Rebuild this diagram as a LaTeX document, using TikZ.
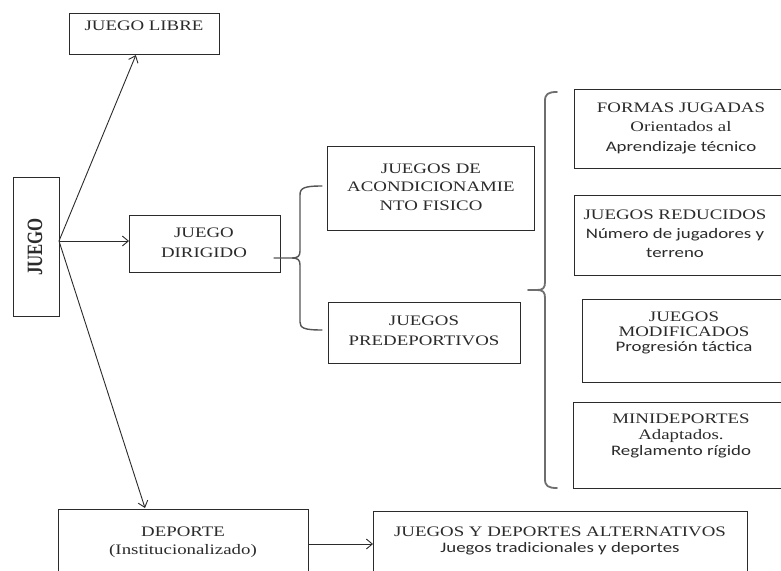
\documentclass[tikz,border=0pt]{standalone}
\usepackage{fontspec}
\usepackage{graphicx}
\setmainfont{Liberation Serif}[FakeStretch=1.3]
\newfontfamily\sansf{Carlito}[FakeStretch=1.3]
\newfontfamily\plainserif{Liberation Serif}
\usetikzlibrary{arrows.meta}
\definecolor{ink}{HTML}{2B2B2B}
\definecolor{bracegray}{HTML}{6E6E6E}
\begin{document}
\begin{tikzpicture}[x=1pt,y=-1pt,
  box/.style={draw=ink, line width=1.1pt, inner sep=0pt, anchor=north west},
  txt/.style={align=center, inner sep=0pt, text=ink},
  fs/.style={font=\fontsize{14.5}{#1}\selectfont},
  arr/.style={draw=ink, line width=0.9pt, -{Straight Barb[length=6pt,width=10pt]}},
  bracestyle/.style={draw=bracegray, line width=1.8pt, line cap=round, line join=round}]
\useasboundingbox (0,0) rectangle (781,570);
\clip (0,0) rectangle (781,570);
\fill[white] (0,0) rectangle (781,570);

% boxes
\node[box, minimum width=150pt, minimum height=41pt] (libre) at (69,13) {};
\node[box, minimum width=46pt, minimum height=139pt] (juego) at (13,177) {};
\node[box, minimum width=151pt, minimum height=57pt] (dirigido) at (129,215) {};
\node[box, minimum width=207pt, minimum height=84pt] (acond) at (327,146) {};
\node[box, minimum width=192pt, minimum height=61pt] (predep) at (328,302) {};
\node[box, minimum width=230pt, minimum height=79pt] (formas) at (574,89) {};
\node[box, minimum width=230pt, minimum height=80pt] (reduc) at (574,195) {};
\node[box, minimum width=230pt, minimum height=83pt] (modif) at (582,299) {};
\node[box, minimum width=230pt, minimum height=86pt] (minid) at (573,402) {};
\node[box, minimum width=250pt, minimum height=90pt] (deporte) at (58,509) {};
\node[box, minimum width=374pt, minimum height=90pt] (altern) at (373,511) {};

% texts
\node[txt, fs=19] (libreT) at (144,26) {JUEGO LIBRE};
\node[rotate=90, inner sep=0pt, text=ink] (juegoT) at (35,247)
  {\scalebox{1}[1.3]{\plainserif\bfseries\fontsize{16.8}{17}\selectfont JUEGO}};
\node[txt, fs=20] (dirigidoT) at (204,243) {JUEGO\\DIRIGIDO};
\node[txt, fs=18.5] (acondT) at (431,187) {JUEGOS DE\\ACONDICIONAMIE\\NTO FISICO};
\node[txt, fs=20] (predepT) at (424,331) {JUEGOS\\PREDEPORTIVOS};
\node[txt, fs=19.5] (formasT) at (681,128) {FORMAS JUGADAS\\Orientados al\\{\sansf Aprendizaje técnico}};
\node[txt, fs=19] (reducT) at (675,234) {JUEGOS REDUCIDOS\\{\sansf Número de jugadores y}\\{\sansf terreno}};
\node[txt, fs=15] (modifT) at (684,333) {JUEGOS\\MODIFICADOS\\{\sansf Progresión táctica}};
\node[txt, fs=16] (minidT) at (681,436) {MINIDEPORTES\\Adaptados.\\{\sansf Reglamento rígido}};
\node[txt, fs=18] (deporteT) at (183,542) {DEPORTE\\(Institucionalizado)};
\node[txt, fs=16] (alternT) at (560,541) {JUEGOS Y DEPORTES ALTERNATIVOS\\{\sansf Juegos tradicionales y deportes}};

% arrows
\coordinate (jo) at (59,241);
\coordinate (depIn) at (145,508);
\coordinate (da) at (0,544);
\draw[arr] (jo) -- (libre);
\draw[arr] (jo) -- (jo -| dirigido.west);
\draw[arr] (jo) -- (depIn);
\draw[arr] (deporte.east |- da) -- (altern.west |- da);

% small brace
\coordinate (sTip) at (274,258);
\draw[bracestyle, line width=1.4pt, draw=ink!80] (322,186) .. controls (304,186) and (300,188) .. (300,195)
  -- (300,251) .. controls (300,256) and (298,258) .. (292,258) -- (sTip) -- (292,258)
  .. controls (298,258) and (300,260) .. (300,265) -- (300,322)
  .. controls (300,328) and (304,330) .. (322,330);

% big brace
\coordinate (bTip) at (528,290);
\draw[bracestyle] (557,92) .. controls (548,92) and (545,94) .. (545,101)
  -- (545,282) .. controls (545,288) and (543,290) .. (537,290) -- (bTip) -- (537,290)
  .. controls (543,290) and (545,292) .. (545,298) -- (545,479)
  .. controls (545,486) and (548,488) .. (557,488);
\end{tikzpicture}
\end{document}
